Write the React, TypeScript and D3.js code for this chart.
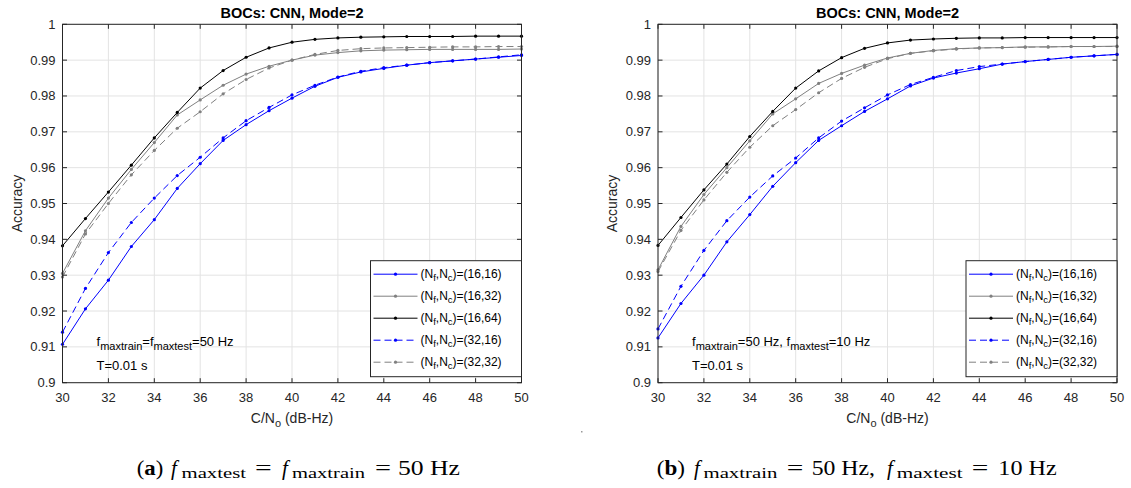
import * as d3 from 'd3';

// C/No sweep (dB-Hz)
const cn = [30, 31, 32, 33, 34, 35, 36, 37, 38, 39, 40, 41, 42, 43, 44, 45, 46, 47, 48, 49, 50];
const xTicks = [30, 32, 34, 36, 38, 40, 42, 44, 46, 48, 50];
const yTicks = [0.9, 0.91, 0.92, 0.93, 0.94, 0.95, 0.96, 0.97, 0.98, 0.99, 1];
const legendLabels = ['(16,16)', '(16,32)', '(16,64)', '(32,16)', '(32,32)'];

// (a) fmaxtest = fmaxtrain = 50 Hz
const a_16_16 = [0.9107, 0.9206, 0.9286, 0.938, 0.9455, 0.9542, 0.9611, 0.9676, 0.972, 0.9759, 0.9794, 0.9827, 0.9852, 0.9867, 0.9877, 0.9886, 0.9893, 0.9898, 0.9903, 0.9908, 0.9913];
const a_16_32 = [0.9305, 0.9424, 0.9515, 0.9595, 0.967, 0.9747, 0.9789, 0.983, 0.9861, 0.9883, 0.99, 0.9914, 0.9921, 0.9926, 0.9928, 0.9929, 0.993, 0.993, 0.993, 0.993, 0.9931];
const a_16_64 = [0.9382, 0.9458, 0.9532, 0.9607, 0.9683, 0.9754, 0.9822, 0.9871, 0.9908, 0.9934, 0.995, 0.9958, 0.9962, 0.9964, 0.9965, 0.9966, 0.9966, 0.9966, 0.9967, 0.9967, 0.9967];
const a_32_16 = [0.9141, 0.9263, 0.9363, 0.9447, 0.9515, 0.9578, 0.9629, 0.9683, 0.9731, 0.9768, 0.9803, 0.983, 0.9853, 0.9869, 0.9879, 0.9886, 0.9893, 0.9898, 0.9903, 0.9909, 0.9915];
const a_32_32 = [0.9295, 0.9415, 0.95, 0.958, 0.9648, 0.971, 0.9756, 0.9806, 0.9846, 0.9878, 0.99, 0.9916, 0.9927, 0.9932, 0.9934, 0.9935, 0.9936, 0.9937, 0.9937, 0.9938, 0.9938];

// (b) fmaxtrain = 50 Hz, fmaxtest = 10 Hz
const b_16_16 = [0.9125, 0.9221, 0.93, 0.9393, 0.9469, 0.9548, 0.9614, 0.9676, 0.9717, 0.9757, 0.9792, 0.9828, 0.985, 0.9864, 0.9876, 0.9889, 0.9896, 0.9902, 0.9908, 0.9912, 0.9916];
const b_16_32 = [0.9315, 0.9436, 0.9525, 0.96, 0.9675, 0.975, 0.9792, 0.9835, 0.9863, 0.9886, 0.9906, 0.9919, 0.9927, 0.9932, 0.9934, 0.9935, 0.9937, 0.9937, 0.9938, 0.9938, 0.9939];
const b_16_64 = [0.9383, 0.9461, 0.9538, 0.961, 0.9687, 0.9757, 0.9822, 0.987, 0.9907, 0.9933, 0.9948, 0.9956, 0.9959, 0.9961, 0.9962, 0.9962, 0.9963, 0.9963, 0.9963, 0.9963, 0.9963];
const b_32_16 = [0.915, 0.9269, 0.9369, 0.9452, 0.9518, 0.9577, 0.9627, 0.9683, 0.973, 0.9767, 0.9803, 0.9832, 0.9852, 0.9871, 0.9882, 0.9889, 0.9896, 0.9902, 0.9908, 0.9912, 0.9916];
const b_32_32 = [0.931, 0.9425, 0.951, 0.9587, 0.9657, 0.9717, 0.9762, 0.9809, 0.9849, 0.988, 0.9904, 0.9919, 0.9926, 0.9931, 0.9934, 0.9935, 0.9936, 0.9937, 0.9938, 0.9938, 0.9938];

const styles = [
  { color: '#0000ff', dash: '' },
  { color: '#808080', dash: '' },
  { color: '#000000', dash: '' },
  { color: '#0000ff', dash: '7,4' },
  { color: '#808080', dash: '7,4' },
];

const axisColor = '#262626';
const gridColor = '#e3e3e3';
const font = "'Liberation Sans', Arial, Helvetica, sans-serif";
const serif = "'Liberation Serif', 'DejaVu Serif', serif";

function Panel({ left, series, note }) {
  const top = 24.3;
  const bottom = 382.7;
  const right = left + 459;

  const x = d3.scaleLinear().domain([30, 50]).range([left, right]);
  const y = d3.scaleLinear().domain([0.9, 1]).range([bottom, top]);
  const line = d3.line<number>().x((d, i) => x(cn[i])).y(d => y(d));

  const legX = right - 151;
  const legY = bottom - 122;
  const midX = (left + right) / 2;

  return (
    <g fontFamily={font}>
      <rect x={left} y={top} width={right - left} height={bottom - top} fill="#fff" />
      {xTicks.map(t => (
        <line key={'gx' + t} x1={x(t)} x2={x(t)} y1={top} y2={bottom} stroke={gridColor} />
      ))}
      {yTicks.map(t => (
        <line key={'gy' + t} x1={left} x2={right} y1={y(t)} y2={y(t)} stroke={gridColor} />
      ))}

      {series.map((s, k) => (
        <g key={'s' + k}>
          <path d={line(s)} fill="none" stroke={styles[k].color} strokeWidth={1} strokeDasharray={styles[k].dash} />
          {s.map((v, i) => (
            <circle key={i} cx={x(cn[i])} cy={y(v)} r={1.6} fill={styles[k].color} />
          ))}
        </g>
      ))}

      {/* box with inward ticks */}
      <rect x={left} y={top} width={right - left} height={bottom - top} fill="none" stroke={axisColor} strokeWidth={1} />
      {xTicks.map(t => (
        <g key={'tx' + t}>
          <line x1={x(t)} x2={x(t)} y1={bottom} y2={bottom - 4.5} stroke={axisColor} />
          <line x1={x(t)} x2={x(t)} y1={top} y2={top + 4.5} stroke={axisColor} />
          <text x={x(t)} y={bottom + 19.5} textAnchor="middle" fontSize={13} fill={axisColor}>{t}</text>
        </g>
      ))}
      {yTicks.map(t => (
        <g key={'ty' + t}>
          <line x1={left} x2={left + 4.5} y1={y(t)} y2={y(t)} stroke={axisColor} />
          <line x1={right} x2={right - 4.5} y1={y(t)} y2={y(t)} stroke={axisColor} />
          <text x={left - 7} y={y(t) + 4.5} textAnchor="end" fontSize={13} fill={axisColor}>{d3.format('~g')(t)}</text>
        </g>
      ))}

      <text x={midX} y={17.5} textAnchor="middle" fontSize={14.5} fontWeight="bold" fill="#000">BOCs: CNN, Mode=2</text>
      <text x={midX} y={422.5} textAnchor="middle" fontSize={14} fill={axisColor}>
        C/N<tspan fontSize={11} dy={4}>o</tspan><tspan dy={-4}> (dB-Hz)</tspan>
      </text>
      <text transform={`translate(${left - 41},${(top + bottom) / 2}) rotate(-90)`} textAnchor="middle" fontSize={14} fill={axisColor}>Accuracy</text>

      {/* annotation */}
      <text x={left + 34} y={346} fontSize={13} fill="#000">
        {note.map((p, i) =>
          p.sub ? <tspan key={i} fontSize={11} dy={4}>{p.t}</tspan> : <tspan key={i} dy={i > 0 ? -4 : 0}>{p.t}</tspan>
        )}
      </text>
      <text x={left + 34} y={369.5} fontSize={13} fill="#000">T=0.01 s</text>

      {/* legend */}
      <rect x={legX} y={legY} width={151} height={116} fill="#fff" stroke={axisColor} strokeWidth={1} />
      {legendLabels.map((lab, k) => {
        const ry = legY + 13.5 + k * 22;
        return (
          <g key={'l' + k}>
            <line x1={legX + 3} x2={legX + 47} y1={ry} y2={ry} stroke={styles[k].color} strokeDasharray={styles[k].dash} />
            <circle cx={legX + 25} cy={ry} r={1.6} fill={styles[k].color} />
            <text x={legX + 50} y={ry + 4} fontSize={12} fill="#000">
              (N<tspan fontSize={9.5} dy={3}>f</tspan><tspan dy={-3}>,N</tspan><tspan fontSize={9.5} dy={3}>c</tspan><tspan dy={-3}>)={lab}</tspan>
            </text>
          </g>
        );
      })}
    </g>
  );
}

// caption pieces: [text, x0, x1, kind]
const captionA = [
  ['(a)', 136.7, 163.3, 'label'],
  ['f', 171, 181, 'it'],
  ['maxtest', 181.5, 246, 'sub'],
  ['=', 255, 271.7, 'rm'],
  ['f', 282, 291.5, 'it'],
  ['maxtrain', 292, 365, 'sub'],
  ['=', 375, 391, 'rm'],
  ['50 Hz', 398, 460, 'rm'],
];
const captionB = [
  ['(b)', 656.7, 685, 'label'],
  ['f', 694, 703, 'it'],
  ['maxtrain', 703.5, 777.3, 'sub'],
  ['=', 786.7, 803.3, 'rm'],
  ['50 Hz,', 811.7, 875, 'rm'],
  ['f', 887, 896, 'it'],
  ['maxtest', 896.7, 962.7, 'sub'],
  ['=', 971.7, 988.3, 'rm'],
  ['10 Hz', 998.3, 1056.7, 'rm'],
];

function Caption({ pieces }) {
  const base = 475;
  return (
    <g fontFamily={serif} fill="#000">
      {pieces.map(([t, x0, x1, kind], i) => {
        if (kind === 'label') {
          return (
            <text key={i} x={x0} y={base} fontSize={20} textLength={x1 - x0} lengthAdjust="spacingAndGlyphs">
              (<tspan fontWeight="bold">{(t as string)[1]}</tspan>)
            </text>
          );
        }
        if (kind === 'it') {
          return (
            <text key={i} x={x0} y={base} fontSize={21} fontStyle="italic">{t}</text>
          );
        }
        return (
          <text
            key={i}
            x={x0}
            y={kind === 'sub' ? base + 3 : base}
            fontSize={kind === 'sub' ? 15.5 : 20}
            textLength={x1 - x0}
            lengthAdjust="spacingAndGlyphs"
          >
            {t}
          </text>
        );
      })}
    </g>
  );
}

export default function App() {
  return (
    <svg width={1131} height={488} style={{ position: 'absolute', left: 0, top: 0, background: '#fff' }}>
      <rect width={1131} height={488} fill="#fff" />
      <Panel
        left={62.5}
        series={[a_16_16, a_16_32, a_16_64, a_32_16, a_32_32]}
        note={[{ t: 'f' }, { t: 'maxtrain', sub: true }, { t: '=f' }, { t: 'maxtest', sub: true }, { t: '=50 Hz' }]}
      />
      <Panel
        left={658}
        series={[b_16_16, b_16_32, b_16_64, b_32_16, b_32_32]}
        note={[{ t: 'f' }, { t: 'maxtrain', sub: true }, { t: '=50 Hz, f' }, { t: 'maxtest', sub: true }, { t: '=10 Hz' }]}
      />
      <rect x={581} y={431} width={1.5} height={1.5} fill="#999" />
      <Caption pieces={captionA} />
      <Caption pieces={captionB} />
    </svg>
  );
}
